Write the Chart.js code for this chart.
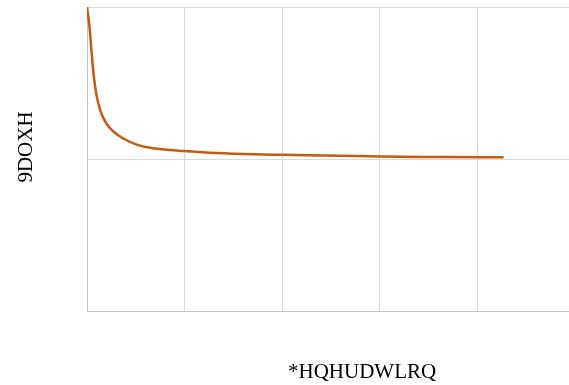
<!DOCTYPE html>
<html>
<head>
<meta charset="utf-8">
<script src="https://cdn.jsdelivr.net/npm/chart.js@4/dist/chart.umd.min.js"></script>
<style>
  html, body { margin: 0; padding: 0; background: #ffffff; overflow: hidden; }
  #wrap { position: relative; width: 569px; height: 385px; }
</style>
</head>
<body>
<div id="wrap"><canvas id="chart"></canvas></div>
<script>
// Generation counter and the value reached at each generation
const generations = [0, 2.6, 4.1, 5.6, 7.2, 9.2, 11.8, 15.4, 20.2, 27, 37.2, 51, 64.6, 85.1, 98.8, 126, 160, 198, 260, 300, 362, 427];
const values = [2.0, 1.868, 1.75, 1.632, 1.533, 1.441, 1.362, 1.289, 1.23, 1.181, 1.135, 1.095, 1.074, 1.059, 1.053, 1.041, 1.033, 1.028, 1.022, 1.016, 1.013, 1.011];

// Grid positions along each axis (no labels are printed)
const generationTicks = [0, 100, 200, 300, 400];
const valueTicks = [0, 1, 2];

// Axis titles as they appear on the chart
const xTitle = '*HQHUDWLRQ';
const yTitle = '9DOXH';

const points = generations.map((g, i) => ({ x: g, y: values[i] }));

// Draws both axis titles in a serif face
const axisTitles = {
  id: 'axisTitles',
  afterDraw(chart) {
    const ctx = chart.ctx;
    ctx.save();
    ctx.fillStyle = '#000000';
    ctx.font = '21px "Liberation Serif", "Times New Roman", serif';
    ctx.textBaseline = 'alphabetic';
    ctx.textAlign = 'left';
    ctx.fillText(xTitle, 288, 378);
    ctx.translate(32, 147);
    ctx.rotate(-Math.PI / 2);
    ctx.textAlign = 'center';
    ctx.fillText(yTitle, 0, 0);
    ctx.restore();
  }
};

new Chart(document.getElementById('chart'), {
  type: 'scatter',
  data: {
    datasets: [{
      data: points,
      showLine: true,
      borderColor: '#C55A11',
      backgroundColor: '#C55A11',
      borderWidth: 2.5,
      pointRadius: 0,
      cubicInterpolationMode: 'monotone',
      fill: false
    }]
  },
  options: {
    responsive: true,
    maintainAspectRatio: false,
    animation: false,
    layout: { padding: { left: 87, top: 7, right: 0, bottom: 74 } },
    plugins: {
      legend: { display: false },
      tooltip: { enabled: false }
    },
    scales: {
      x: {
        type: 'linear',
        min: 0,
        max: 494,
        afterBuildTicks: (scale) => { scale.ticks = generationTicks.map(v => ({ value: v })); },
        ticks: { display: false },
        grid: { drawTicks: false, color: '#d9d9d9', lineWidth: 1 },
        border: { color: '#c4c4c4', width: 1 }
      },
      y: {
        type: 'linear',
        min: 0,
        max: 2,
        afterBuildTicks: (scale) => { scale.ticks = valueTicks.map(v => ({ value: v })); },
        ticks: { display: false },
        grid: { drawTicks: false, color: '#d9d9d9', lineWidth: 1 },
        border: { color: '#c4c4c4', width: 1 }
      }
    }
  },
  plugins: [axisTitles]
});
</script>
</body>
</html>
